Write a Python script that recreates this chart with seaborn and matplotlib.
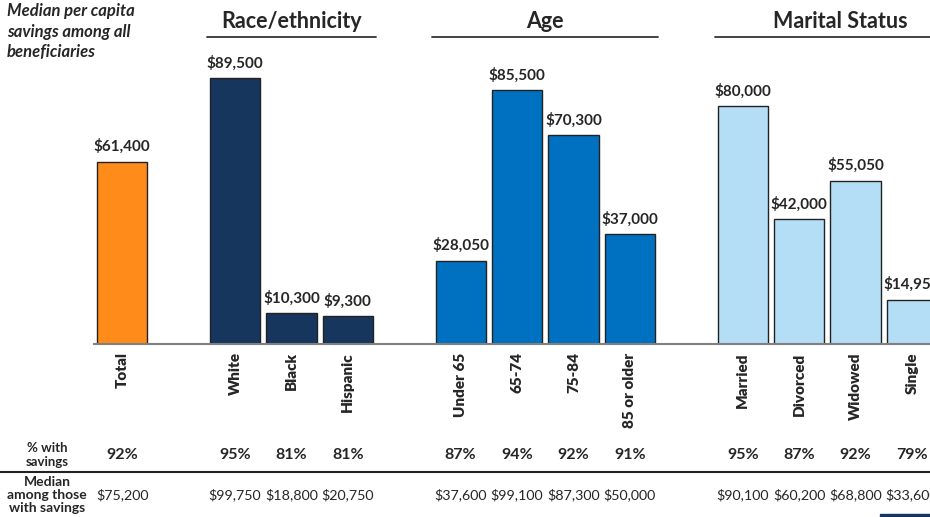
import matplotlib
matplotlib.use("Agg")
import matplotlib.pyplot as plt
import matplotlib.transforms as mtransforms
import seaborn as sns
import pandas as pd

# ---- data ----
categories = ["Total", "White", "Black", "Hispanic", "Under 65", "65-74", "75-84",
              "85 or older", "Married", "Divorced", "Widowed", "Single"]
groups = ["Total", "Race", "Race", "Race", "Age", "Age", "Age", "Age",
          "Marital", "Marital", "Marital", "Marital"]
savings = [61400, 89500, 10300, 9300, 28050, 85500, 70300, 37000,
           80000, 42000, 55050, 14950]
pct_with_savings = ["92%", "95%", "81%", "81%", "87%", "94%", "92%", "91%",
                    "95%", "87%", "92%", "79%"]
median_with_savings = ["$75,200", "$99,750", "$18,800", "$20,750", "$37,600", "$99,100",
                       "$87,300", "$50,000", "$90,100", "$60,200", "$68,800", "$33,600"]
group_titles = ["Race/ethnicity", "Age", "Marital Status"]

positions = [0, 2, 3, 4, 6, 7, 8, 9, 11, 12, 13, 14]
palette = {"Total": "#FF8C1A", "Race": "#17365D", "Age": "#0070C0", "Marital": "#B3DEF5"}

df = pd.DataFrame({"pos": positions, "val": savings, "grp": groups, "cat": categories})

sns.set_theme(style="white")
plt.rcParams["font.family"] = ["Lato", "DejaVu Sans"]

fig = plt.figure(figsize=(9.3, 5.17), dpi=100)
W, H = 930, 517
ax = fig.add_axes([94 / W, 1 - 344 / H, 1 - 94 / W, 297 / H])

sns.barplot(data=df, x="pos", y="val", hue="grp", palette=palette, native_scale=True,
            dodge=False, width=0.89, saturation=1, edgecolor="#222222", linewidth=1.0,
            legend=False, ax=ax)

ax.set_xlim(-0.5, 14.32)
ax.set_ylim(0, 100000)
ax.set_xlabel("")
ax.set_ylabel("")
ax.set_yticks([])
for s in ["top", "right", "left"]:
    ax.spines[s].set_visible(False)
ax.spines["bottom"].set_color("#808080")
ax.spines["bottom"].set_linewidth(1.5)

ax.set_xticks(positions, labels=categories, rotation=90, va="top",
              fontweight="heavy", fontsize=11)
ax.tick_params(axis="x", length=0, pad=6)

for p, v in zip(positions, savings):
    ax.text(p, v + 2500, f"${v:,.0f}", ha="center", va="bottom", fontsize=11,
            fontweight="bold", clip_on=False)

trans = mtransforms.blended_transform_factory(ax.transData, fig.transFigure)

# group headers
header_x = [3.0, 7.5, 12.73]
line_spans = [(1.5, 4.5), (5.5, 9.5), (10.5, 14.32)]
for t, hx, (a, b) in zip(group_titles, header_x, line_spans):
    ax.text(hx, 1 - 21 / H, t, transform=trans, ha="center", va="center",
            fontsize=15.5, fontweight="bold", clip_on=False)
    ax.plot([a, b], [1 - 37 / H, 1 - 37 / H], transform=trans, color="#333333",
            lw=1.3, clip_on=False)

# top-left label
fig.text(7 / W, 1 - 3 / H, "Median per capita\nsavings among all\nbeneficiaries",
         ha="left", va="top", fontsize=12, fontweight="bold", style="italic",
         linespacing=1.35)

# bottom table
fig.text(47 / W, 1 - 455 / H, "% with\nsavings", ha="center", va="center",
         fontsize=9.5, fontweight="bold", linespacing=1.1)
fig.text(47 / W, 1 - 495 / H, "Median\namong those\nwith savings", ha="center",
         va="center", fontsize=10, fontweight="bold", linespacing=1.05)
for p, a, b in zip(positions, pct_with_savings, median_with_savings):
    ax.text(p, 1 - 455 / H, a, transform=trans, ha="center", va="center",
            fontsize=11.5, fontweight="bold", clip_on=False)
    ax.text(p, 1 - 495 / H, b, transform=trans, ha="center", va="center",
            fontsize=10.3, clip_on=False)

fig.add_artist(plt.Line2D([0, 1], [1 - 472 / H, 1 - 472 / H], color="#222222", lw=1.5))
fig.add_artist(plt.Rectangle((880 / W, 0), 50 / W, 3 / H, color="#17365D",
                             transform=fig.transFigure))

fig.savefig("out.png", dpi=100)
